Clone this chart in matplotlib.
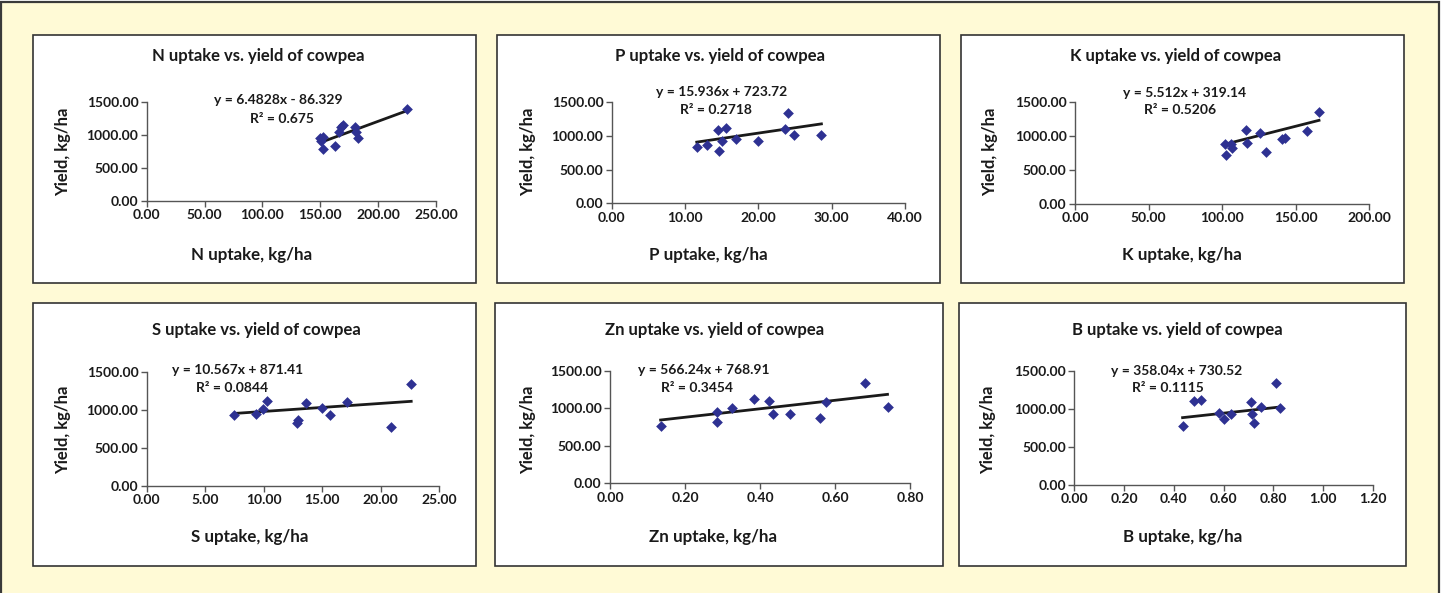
import matplotlib
matplotlib.use("Agg")
import matplotlib.pyplot as plt
from matplotlib.patches import Rectangle

W, H = 1445, 593

# ---------------- data ----------------
titles = ["N uptake vs. yield of cowpea", "P uptake vs. yield of cowpea",
          "K uptake vs. yield of cowpea", "S uptake vs. yield of cowpea",
          "Zn uptake vs. yield of cowpea", "B uptake vs. yield of cowpea"]
xlabels = ["N uptake, kg/ha", "P uptake, kg/ha", "K uptake, kg/ha",
           "S uptake, kg/ha", "Zn uptake, kg/ha", "B uptake, kg/ha"]
ylabel = "Yield, kg/ha"

N_x = [150, 151, 152, 152, 163, 166, 168, 170, 180, 181, 183, 225]
N_y = [950, 910, 975, 785, 840, 1040, 1120, 1155, 1130, 1050, 950, 1400]
P_x = [11.6, 13.0, 14.5, 14.6, 15.0, 15.6, 17.0, 19.9, 23.6, 24.0, 24.8, 28.6]
P_y = [830, 870, 1090, 770, 930, 1120, 950, 930, 1100, 1340, 1010, 1010]
K_x = [102, 103, 106, 107, 116, 117, 126, 130, 141, 143, 158, 166]
K_y = [880, 720, 880, 830, 1090, 900, 1050, 770, 960, 970, 1070, 1350]
S_x = [7.5, 9.3, 9.9, 10.3, 12.8, 12.9, 13.6, 15.0, 15.7, 17.1, 20.9, 22.6]
S_y = [930, 950, 1010, 1120, 820, 870, 1090, 1020, 930, 1100, 770, 1340]
Zn_x = [0.135, 0.285, 0.285, 0.325, 0.385, 0.425, 0.435, 0.48, 0.56, 0.575, 0.68, 0.74]
Zn_y = [770, 950, 820, 1010, 1120, 1100, 930, 930, 870, 1090, 1340, 1020]
B_x = [0.435, 0.48, 0.51, 0.58, 0.60, 0.63, 0.71, 0.715, 0.72, 0.75, 0.81, 0.825]
B_y = [770, 1110, 1120, 950, 870, 930, 1090, 930, 820, 1020, 1340, 1010]

slopes = [6.4828, 15.936, 5.512, 10.567, 566.24, 358.04]
intercepts = [-86.329, 723.72, 319.14, 871.41, 768.91, 730.52]
eq_texts = ["y = 6.4828x - 86.329", "y = 15.936x + 723.72", "y = 5.512x + 319.14",
            "y = 10.567x + 871.41", "y = 566.24x + 768.91", "y = 358.04x + 730.52"]
r2_texts = ["R² = 0.675", "R² = 0.2718", "R² = 0.5206",
            "R² = 0.0844", "R² = 0.3454", "R² = 0.1115"]

xticks = [[0, 50, 100, 150, 200, 250], [0, 10, 20, 30, 40], [0, 50, 100, 150, 200],
          [0, 5, 10, 15, 20, 25], [0, 0.2, 0.4, 0.6, 0.8], [0, 0.2, 0.4, 0.6, 0.8, 1.0, 1.2]]
yticks = [0, 500, 1000, 1500]

xs = [N_x, P_x, K_x, S_x, Zn_x, B_x]
ys = [N_y, P_y, K_y, S_y, Zn_y, B_y]

# ---------------- layout (pixels) ----------------
panel_boxes = [(33, 35, 476, 283), (497, 35, 940, 283), (961, 35, 1404, 283),
               (33, 303, 476, 566), (495, 303, 943, 566), (959, 303, 1406, 566)]
axes_boxes = [(146.7, 102.3, 436, 200.7), (611.7, 102.3, 905, 203.3), (1075, 102.3, 1369, 204),
              (146.7, 371.7, 439.3, 485.7), (610, 371, 910, 483.3), (1074.3, 371, 1373, 485)]
title_pos = [(258, 56), (720, 56), (1176, 56), (256, 330), (715, 330), (1177, 330)]
xlabel_pos = [(252, 255), (708, 255), (1182, 255), (250, 537), (713, 537), (1183, 537)]
ylabel_pos = [(63, 152), (528, 152), (990, 152), (63, 430), (528, 430), (988, 430)]
eq_pos = [(278, 100), (722, 92), (1185, 93), (238, 370), (704, 370), (1177, 371)]
r2_pos = [(282, 119), (716, 110), (1180, 110), (232, 388), (697, 388), (1168, 388)]

FONT = ["Lato", "DejaVu Sans"]
BG = "#FFFAD6"
MARK = "#2E3192"


def fx(x):
    return x / W


def fy(y):
    return 1 - y / H


fig = plt.figure(figsize=(W / 100, H / 100), dpi=100)
fig.patch.set_facecolor("white")
fig.patches.append(Rectangle((fx(1), -0.02), (1439 - 1) / W, fy(2) + 0.02,
                             transform=fig.transFigure, facecolor=BG,
                             edgecolor="#3a3a3a", lw=1.6, zorder=0))

for i in range(6):
    l, t, r, b = panel_boxes[i]
    fig.patches.append(Rectangle((fx(l), fy(b)), (r - l) / W, (b - t) / H,
                                 transform=fig.transFigure, facecolor="white",
                                 edgecolor="#333333", lw=1.2, zorder=0.5))
    al, at, ar, ab = axes_boxes[i]
    ax = fig.add_axes([fx(al), fy(ab), (ar - al) / W, (ab - at) / H])
    ax.set_zorder(5)
    ax.set_facecolor("none")
    ax.scatter(xs[i], ys[i], marker="D", s=30, color=MARK, zorder=3, linewidths=0,
               clip_on=False)
    x0, x1 = min(xs[i]), max(xs[i])
    ax.plot([x0, x1], [slopes[i] * x0 + intercepts[i], slopes[i] * x1 + intercepts[i]],
            color="#1a1a1a", lw=2.0, zorder=2)
    ax.set_xlim(xticks[i][0], xticks[i][-1])
    ax.set_ylim(0, 1500)
    ax.set_xticks(xticks[i])
    ax.set_yticks(yticks)
    ax.set_xticklabels([f"{v:.2f}" for v in xticks[i]], fontfamily=FONT,
                       fontweight="bold", fontsize=10)
    ax.set_yticklabels([f"{v:.2f}" for v in yticks], fontfamily=FONT,
                       fontweight="bold", fontsize=10)
    for s in ("top", "right"):
        ax.spines[s].set_visible(False)
    for s in ("left", "bottom"):
        ax.spines[s].set_color("#555555")
        ax.spines[s].set_linewidth(1.0)
    ax.tick_params(direction="out", length=4, width=1, color="#555555",
                   labelcolor="#1a1a1a", pad=2)

    fig.text(fx(title_pos[i][0]), fy(title_pos[i][1]), titles[i], ha="center", va="center",
             fontfamily=FONT, fontweight="bold", fontsize=12, color="#1a1a1a", zorder=6)
    fig.text(fx(xlabel_pos[i][0]), fy(xlabel_pos[i][1]), xlabels[i], ha="center", va="center",
             fontfamily=FONT, fontweight="bold", fontsize=12.2, color="#1a1a1a", zorder=6)
    fig.text(fx(ylabel_pos[i][0]), fy(ylabel_pos[i][1]), ylabel, ha="center", va="center",
             rotation=90, fontfamily=FONT, fontweight="bold", fontsize=12, color="#1a1a1a",
             zorder=6)
    fig.text(fx(eq_pos[i][0]), fy(eq_pos[i][1]), eq_texts[i], ha="center", va="center",
             fontfamily=FONT, fontweight="bold", fontsize=10, color="#1a1a1a", zorder=6)
    fig.text(fx(r2_pos[i][0]), fy(r2_pos[i][1]), r2_texts[i], ha="center", va="center",
             fontfamily=FONT, fontweight="bold", fontsize=10, color="#1a1a1a", zorder=6)

fig.savefig("out.png", dpi=100, facecolor=fig.get_facecolor())
